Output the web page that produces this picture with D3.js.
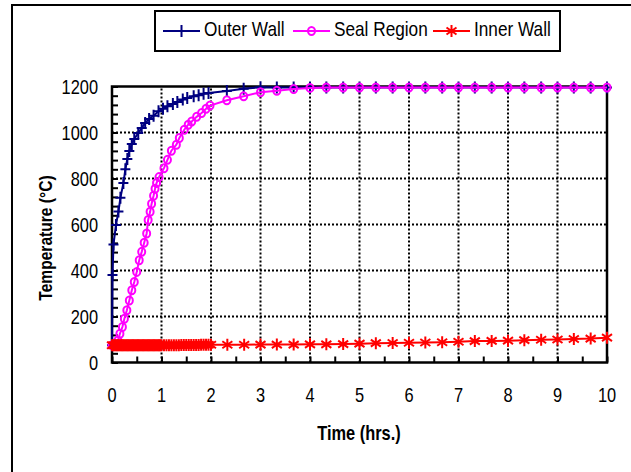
<!DOCTYPE html>
<html><head><meta charset="utf-8">
<script src="https://cdn.jsdelivr.net/npm/d3@7"></script>
<style>html,body{margin:0;padding:0;background:#fff;}svg{display:block;}</style>
</head><body>
<script>
// ---- data ----
const seriesNames = ["Outer Wall", "Seal Region", "Inner Wall"];
const seriesColors = ["#000080", "#FF00FF", "#FF0000"];

const tail = [3.67,4.0,4.33,4.67,5.0,5.33,5.67,6.0,6.33,6.67,7.0,7.33,7.67,8.0,8.33,8.67,9.0,9.33,9.67,10.0];

const outerTime = [0,0.01,0.03,0.08,0.13,0.17,0.23,0.27,0.31,0.35,0.40,0.45,0.53,0.60,0.67,0.75,0.84,0.94,1.03,1.12,1.23,1.32,1.43,1.52,1.65,1.75,1.85,1.95,2.32,2.66,3.0,3.33].concat(tail);
const outerTemp = [75,380,513,598,656,716,780,840,885,920,950,972,998,1020,1041,1059,1073,1092,1103,1114,1124,1133,1143,1150,1158,1162,1169,1172,1180,1190,1197,1196,
  1196,1196,1196,1196,1196,1196,1196,1196,1196,1196,1196,1196,1196,1196,1196,1196,1196,1196,1196,1196];

const sealTime = [0,0.06,0.12,0.16,0.21,0.25,0.30,0.35,0.40,0.45,0.50,0.55,0.60,0.65,0.70,0.73,0.77,0.80,0.84,0.87,0.90,0.95,1.05,1.12,1.20,1.30,1.36,1.46,1.54,1.61,1.71,1.81,1.90,1.98,2.32,2.66,3.0,3.33].concat(tail);
const sealTemp = [75,78,96,125,154,190,227,270,314,350,394,445,481,521,561,620,655,690,725,755,780,806,845,881,921,947,976,1012,1034,1048,1068,1085,1103,1117,1140,1158,1175,1182,
  1189,1194,1196,1196,1196,1196,1196,1196,1196,1196,1196,1196,1196,1196,1196,1196,1196,1196,1196,1196];

const innerTime = [0,0.025,0.05,0.075,0.1,0.125,0.15,0.175,0.2,0.225,0.25,0.275,0.3,0.325,0.35,0.375,0.4,0.425,0.45,0.475,
  0.5,0.525,0.55,0.575,0.6,0.625,0.65,0.675,0.7,0.725,0.75,0.775,0.8,0.825,0.85,0.875,0.9,0.925,0.95,0.975,
  1.0,1.05,1.1,1.15,1.2,1.25,1.3,1.35,1.4,1.45,1.5,1.55,1.6,1.65,1.7,1.75,1.8,1.85,1.9,1.95,2.0,
  2.33,2.67,3.0,3.33].concat(tail);
const innerTemp = [75,75,75,75,75,75,75,75,75,75,75,75,75,75,75,75,75,75,75,75,
  75,75,75,75,75,75,75,75,75,75,75,75,75,75,75,75,75,75,75,75,
  75,75,75,75,75,75,75,75,76,76,76,76,76,76,76,76,77,77,77,77,77,
  77,77,78,78,78,79,79,80,82,84,85,86,87,88,90,93,94,95,97,99,100,102,104,108,110];

const xTickLabels = ["0","1","2","3","4","5","6","7","8","9","10"];
const yTickLabels = ["0","200","400","600","800","1000","1200"];
const xTitle = "Time (hrs.)";
const yTitle = "Temperature (°C)";

// ---- drawing ----
const W = 631, H = 472;
const svg = d3.select("body").append("svg").attr("width", W).attr("height", H);
const FONT = "'Liberation Sans', Arial, sans-serif";
const NARROW = 0.82;

const x = d3.scaleLinear().domain([0, 10]).range([112, 607]);
const y = d3.scaleLinear().domain([0, 1200]).range([362.5, 86.5]);

// outer chart border (top & left visible)
svg.append("rect").attr("x", 12).attr("y", 5).attr("width", 700).attr("height", 600)
  .attr("fill", "none").attr("stroke", "#000").attr("stroke-width", 2);

// gridlines
const grid = svg.append("g");
d3.range(1, 10).forEach(v => {
  grid.append("line").attr("x1", x(v)).attr("x2", x(v)).attr("y1", y(0)).attr("y2", y(1200));
});
d3.range(200, 1200, 200).forEach(v => {
  grid.append("line").attr("x1", x(0)).attr("x2", x(10)).attr("y1", y(v)).attr("y2", y(v));
});
grid.selectAll("line").attr("stroke", "#000").attr("stroke-width", 2).attr("stroke-dasharray", "2,2");

// axes ticks (inward)
const yAx = svg.append("g").attr("transform", `translate(${x(0)},0)`)
  .call(d3.axisLeft(y).tickValues(d3.range(0, 1201, 40)).tickSize(-6).tickFormat(""));
const xAx = svg.append("g").attr("transform", `translate(0,${y(0)})`)
  .call(d3.axisBottom(x).tickValues(d3.range(0, 10.01, 0.5)).tickSize(-6).tickFormat(""));
[yAx, xAx].forEach(a => {
  a.select(".domain").remove();
  a.selectAll("line").attr("stroke", "#000").attr("stroke-width", 2);
});

// frame
svg.append("rect").attr("x", x(0)).attr("y", y(1200)).attr("width", x(10) - x(0)).attr("height", y(0) - y(1200))
  .attr("fill", "none").attr("stroke", "#000").attr("stroke-width", 2.5);

function label(tx, ty, str, size, anchor, bold, rot) {
  return svg.append("text")
    .attr("transform", `translate(${tx},${ty})` + (rot ? ` rotate(${rot})` : "") + ` scale(${NARROW},1)`)
    .attr("text-anchor", anchor).attr("font-family", FONT).attr("font-size", size)
    .attr("font-weight", bold ? "bold" : "normal").attr("fill", "#000").text(str);
}

// tick labels
yTickLabels.forEach(t => label(98, y(+t) + 7, t, 20, "end"));
xTickLabels.forEach(t => label(x(+t), 401.5, t, 20, "middle"));

// titles
label(359, 440, xTitle, 20, "middle", true);
label(52, 238, yTitle, 19, "middle", true, -90);

// markers
function plus(g, cx, cy, c) {
  g.append("path").attr("d", `M${cx-5},${cy}H${cx+5}M${cx},${cy-6}V${cy+6}`)
    .attr("stroke", c).attr("stroke-width", 2).attr("fill", "none");
}
function circ(g, cx, cy, c) {
  g.append("ellipse").attr("cx", cx).attr("cy", cy).attr("rx", 3.5).attr("ry", 4)
    .attr("stroke", c).attr("stroke-width", 2).attr("fill", "none");
}
function star(g, cx, cy, c) {
  g.append("path").attr("d",
    `M${cx},${cy-6}V${cy+6}M${cx-5},${cy-3.5}L${cx+5},${cy+3.5}M${cx-5},${cy+3.5}L${cx+5},${cy-3.5}`)
    .attr("stroke", c).attr("stroke-width", 2).attr("fill", "none");
}
const markers = [plus, circ, star];
const seriesData = [
  outerTime.map((t, i) => [t, outerTemp[i]]),
  sealTime.map((t, i) => [t, sealTemp[i]]),
  innerTime.map((t, i) => [t, innerTemp[i]])
];
const line = d3.line().x(d => x(d[0])).y(d => y(d[1]));
seriesData.forEach((data, k) => {
  const g = svg.append("g");
  g.append("path").datum(data).attr("d", line).attr("fill", "none")
    .attr("stroke", seriesColors[k]).attr("stroke-width", 2);
  data.forEach(d => markers[k](g, x(d[0]), y(d[1]), seriesColors[k]));
});

// legend
svg.append("rect").attr("x", 155).attr("y", 11).attr("width", 405).attr("height", 40)
  .attr("fill", "#fff").attr("stroke", "#000").attr("stroke-width", 2);
const legX = [163, 293, 433];
seriesNames.forEach((n, k) => {
  const lg = svg.append("g");
  lg.append("line").attr("x1", legX[k]).attr("x2", legX[k] + 37).attr("y1", 31).attr("y2", 31)
    .attr("stroke", seriesColors[k]).attr("stroke-width", 2);
  markers[k](lg, legX[k] + 18.5, 31, seriesColors[k]);
  label(legX[k] + 41, 36, n, 21, "start");
});
</script>
</body></html>
